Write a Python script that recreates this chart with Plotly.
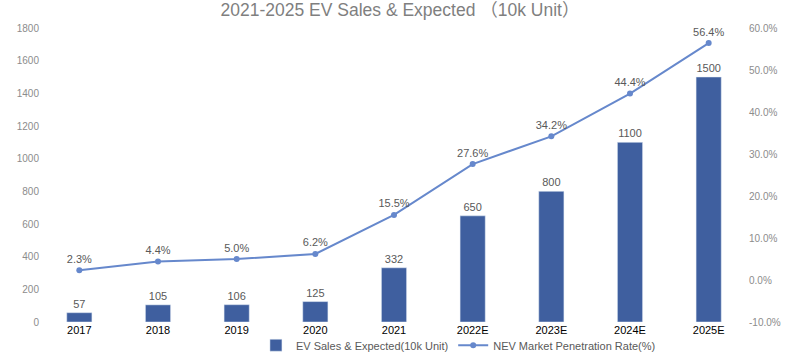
import plotly.graph_objects as go

categories = ["2017", "2018", "2019", "2020", "2021", "2022E", "2023E", "2024E", "2025E"]
sales = [57, 105, 106, 125, 332, 650, 800, 1100, 1500]
penetration = [2.3, 4.4, 5.0, 6.2, 15.5, 27.6, 34.2, 44.4, 56.4]

bar_color = "#3f5f9f"
line_color = "#6688cc"
font_family = "Liberation Sans, Arial, Noto Sans CJK SC, sans-serif"

fig = go.Figure()
fig.add_trace(go.Bar(
    x=categories, y=sales, name="EV Sales & Expected(10k Unit)",
    marker=dict(color=bar_color),
    width=0.32,
    text=[str(v) for v in sales], textposition="outside",
    textfont=dict(size=11, color="#595959"),
    cliponaxis=False,
    yaxis="y",
))
fig.add_trace(go.Scatter(
    x=categories, y=penetration, name="NEV Market Penetration Rate(%)",
    mode="lines+markers+text",
    line=dict(color=line_color, width=2),
    marker=dict(color=line_color, size=6),
    text=[f"{v:.1f}%" for v in penetration], textposition="top center",
    textfont=dict(size=11, color="#595959"),
    cliponaxis=False,
    yaxis="y2",
))

fig.update_layout(
    width=800, height=353,
    margin=dict(l=40, r=52, t=28, b=31, autoexpand=False),
    paper_bgcolor="white", plot_bgcolor="white",
    font=dict(family=font_family, color="#595959"),
    title=dict(text="2021-2025 EV Sales & Expected （10k Unit）",
               x=0.5, xanchor="center", y=0.972, yanchor="middle",
               font=dict(size=17.5, color="#7f7f7f")),
    showlegend=True,
    legend=dict(orientation="h", x=0.305, xanchor="left",
                yref="container", y=0.022, yanchor="middle",
                font=dict(size=11, color="#595959"), itemwidth=30,
                tracegroupgap=0, bgcolor="rgba(0,0,0,0)"),
    xaxis=dict(
        type="category", showgrid=False, showline=False, zeroline=False,
        ticks="", tickfont=dict(size=11, color="#000000", family="Liberation Sans, Arial, sans-serif"),
        ticklabelstandoff=0,
    ),
    yaxis=dict(
        range=[0, 1800], dtick=200, showgrid=False, zeroline=False, showline=False,
        tickfont=dict(size=10, color="#8c8c8c"), ticks="",
    ),
    yaxis2=dict(
        range=[-10, 60], dtick=10, overlaying="y", side="right",
        showgrid=False, zeroline=False, showline=False,
        tickvals=[-10, 0, 10, 20, 30, 40, 50, 60],
        ticktext=["-10.0%", "0.0%", "10.0%", "20.0%", "30.0%", "40.0%", "50.0%", "60.0%"],
        tickfont=dict(size=10, color="#8c8c8c"), ticks="",
    ),
)

fig.write_html("out.html")
